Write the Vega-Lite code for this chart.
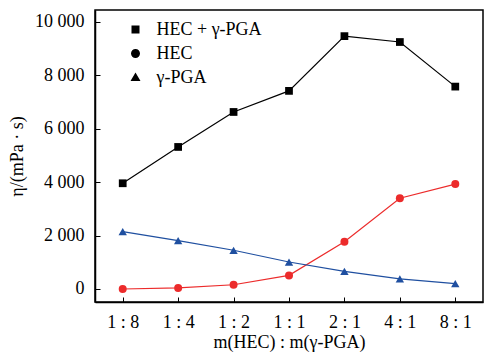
{
  "$schema": "https://vega.github.io/schema/vega-lite/v6.json",
  "width": 388,
  "height": 292,
  "autosize": {"type": "none"},
  "padding": {"left": 95, "top": 10, "right": 21, "bottom": 58},
  "background": "white",
  "config": {
    "font": "Liberation Serif",
    "view": {"stroke": "black", "strokeWidth": 1.5},
    "axis": {
      "domainColor": "black",
      "domainWidth": 1.5,
      "tickColor": "black",
      "tickWidth": 1,
      "tickSize": -5,
      "labelColor": "black",
      "labelFont": "Liberation Serif",
      "labelFontSize": 18,
      "titleColor": "black",
      "titleFont": "Liberation Serif",
      "titleFontSize": 18,
      "titleFontWeight": "normal",
      "grid": false
    }
  },
  "data": {
    "values": [
      {"ratio": "1 : 8", "series": "HEC + γ-PGA", "eta": 3960},
      {"ratio": "1 : 4", "series": "HEC + γ-PGA", "eta": 5320},
      {"ratio": "1 : 2", "series": "HEC + γ-PGA", "eta": 6630},
      {"ratio": "1 : 1", "series": "HEC + γ-PGA", "eta": 7420},
      {"ratio": "2 : 1", "series": "HEC + γ-PGA", "eta": 9470},
      {"ratio": "4 : 1", "series": "HEC + γ-PGA", "eta": 9250},
      {"ratio": "8 : 1", "series": "HEC + γ-PGA", "eta": 7580},
      {"ratio": "1 : 8", "series": "HEC", "eta": 0},
      {"ratio": "1 : 4", "series": "HEC", "eta": 40},
      {"ratio": "1 : 2", "series": "HEC", "eta": 160},
      {"ratio": "1 : 1", "series": "HEC", "eta": 510},
      {"ratio": "2 : 1", "series": "HEC", "eta": 1770},
      {"ratio": "4 : 1", "series": "HEC", "eta": 3400},
      {"ratio": "8 : 1", "series": "HEC", "eta": 3930},
      {"ratio": "1 : 8", "series": "γ-PGA", "eta": 2150},
      {"ratio": "1 : 4", "series": "γ-PGA", "eta": 1810},
      {"ratio": "1 : 2", "series": "γ-PGA", "eta": 1450},
      {"ratio": "1 : 1", "series": "γ-PGA", "eta": 1010},
      {"ratio": "2 : 1", "series": "γ-PGA", "eta": 660},
      {"ratio": "4 : 1", "series": "γ-PGA", "eta": 380},
      {"ratio": "8 : 1", "series": "γ-PGA", "eta": 200}
    ]
  },
  "encoding": {
    "x": {
      "field": "ratio",
      "type": "ordinal",
      "sort": ["1 : 8", "1 : 4", "1 : 2", "1 : 1", "2 : 1", "4 : 1", "8 : 1"],
      "scale": {"type": "point", "padding": 0.5},
      "axis": {"labelAngle": 0, "labelPadding": 16, "title": "m(HEC) : m(γ-PGA)", "titlePadding": 2}
    },
    "y": {
      "field": "eta",
      "type": "quantitative",
      "scale": {"domain": [-487, 10449], "nice": false, "zero": false},
      "axis": {
        "values": [0, 2000, 4000, 6000, 8000, 10000],
        "labelExpr": "replace(format(datum.value, ','), ',', ' ')",
        "labelPadding": 16,
        "title": "η/(mPa · s)",
        "titlePadding": 8
      }
    }
  },
  "resolve": {"scale": {"shape": "independent"}, "legend": {"shape": "independent"}},
  "layer": [
    {
      "mark": {"type": "line", "strokeWidth": 1.2},
      "encoding": {
        "color": {
          "field": "series",
          "type": "nominal",
          "scale": {"domain": ["HEC + γ-PGA", "HEC", "γ-PGA"], "range": ["#000000", "#ec2b2b", "#1f4fa0"]},
          "legend": null
        }
      }
    },
    {
      "transform": [{"filter": "datum.series === 'HEC + γ-PGA'"}],
      "mark": {"type": "point", "shape": "square", "filled": true, "size": 60, "opacity": 1},
      "encoding": {"color": {"field": "series", "type": "nominal", "legend": null}}
    },
    {
      "transform": [{"filter": "datum.series === 'HEC'"}],
      "mark": {"type": "point", "shape": "circle", "filled": true, "size": 64, "opacity": 1},
      "encoding": {"color": {"field": "series", "type": "nominal", "legend": null}}
    },
    {
      "transform": [{"filter": "datum.series === 'γ-PGA'"}],
      "mark": {"type": "point", "shape": "triangle-up", "filled": true, "size": 70, "opacity": 1},
      "encoding": {"color": {"field": "series", "type": "nominal", "legend": null}}
    },
    {
      "transform": [{"filter": "false"}],
      "mark": {"type": "point", "filled": true, "opacity": 1},
      "encoding": {
        "color": {"field": "series", "type": "nominal", "legend": null},
        "shape": {
          "field": "series",
          "type": "nominal",
          "scale": {
            "domain": ["HEC + γ-PGA", "HEC", "γ-PGA"],
            "range": [
              "M -1.75 0 L 1.75 0 M -0.4 -0.4 L 0.4 -0.4 L 0.4 0.4 L -0.4 0.4 Z",
              "M -1.75 0 L 1.75 0 M 0.45 0 A 0.45 0.45 0 1 1 -0.45 0 A 0.45 0.45 0 1 1 0.45 0 Z",
              "M -1.75 0 L 1.75 0 M 0 -0.5 L 0.5 0.35 L -0.5 0.35 Z"
            ]
          },
          "legend": {
            "orient": "none", "legendX": 30, "legendY": 9, "title": null,
            "symbolSize": 400, "symbolOpacity": 1, "symbolStrokeWidth": 1,
            "labelFontSize": 18, "labelFont": "Liberation Serif",
            "labelColor": "black", "labelOffset": 10.5, "rowPadding": 4,
            "encode": {
              "symbols": {
                "stroke": {
                  "condition": [
                    {"test": "datum.value === 'HEC'", "value": "#ec2b2b"},
                    {"test": "datum.value === 'γ-PGA'", "value": "#1f4fa0"}
                  ],
                  "value": "#000000"
                },
                "fill": {
                  "condition": [
                    {"test": "datum.value === 'HEC'", "value": "#ec2b2b"},
                    {"test": "datum.value === 'γ-PGA'", "value": "#1f4fa0"}
                  ],
                  "value": "#000000"
                }
              }
            }
          }
        }
      }
    }
  ]
}
